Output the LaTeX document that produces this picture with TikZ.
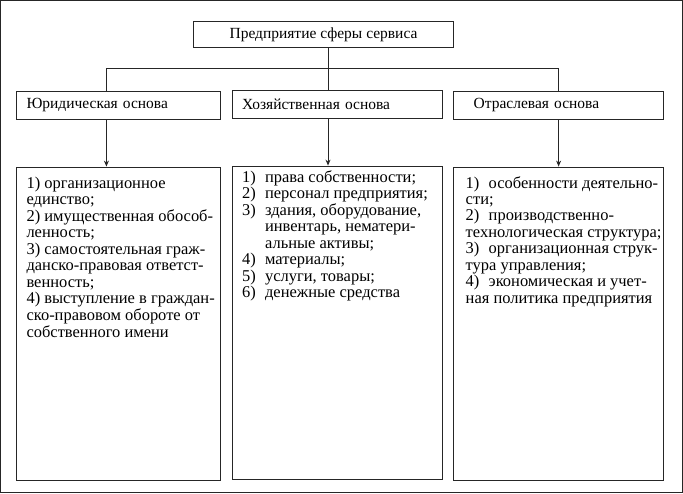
\documentclass[tikz,border=0pt]{standalone}
\usepackage{fontspec}
\setmainfont{Liberation Serif}
\usetikzlibrary{arrows.meta, positioning}

\newcommand{\itemno}[1]{\makebox[23pt][l]{#1}}
\newcommand{\listbox}[2]{\makebox[#1][l]{\begin{tabular}[t]{@{}l@{}}#2\end{tabular}}}

\begin{document}
\begin{tikzpicture}[
        x=1pt, y=1pt,
        node distance=41pt and 11pt,
        every node/.style={font=\fontsize{15.5}{16.5}\selectfont, text=black},
        topbox/.style={rectangle, draw, minimum width=261pt, minimum height=26pt, inner sep=0pt},
        head/.style={rectangle, draw, minimum height=28pt, align=left, inner xsep=10pt, inner ysep=0pt, yshift=-1pt},
        list/.style={rectangle, draw, inner xsep=10pt, inner ysep=10pt, text height=11pt, text depth=283pt, font=\fontsize{16.5}{16.5}\selectfont},
        arrow/.style={-{Stealth[length=6pt, width=5pt]}},
        every path/.style={draw=black!85, line width=0.9pt}
    ]
        \useasboundingbox (0,0) rectangle (683,-493);

        % Top: the enterprise
        \node[topbox] (top) at (323.5,-34) {Предприятие сферы сервиса};

        % Row 2: three bases
        \node[head, text width=191pt, below=41pt of top, xshift=14pt] (hoz) {Хозяйственная основа};
        \node[head, text width=184pt, left=of hoz] (jur) {Юридическая основа};
        \node[head, text width=170pt, inner xsep=20pt, right=10pt of hoz] (otr) {Отраслевая основа};

        % Row 3: lists
        \node[list, below=47pt of jur] (jurlist) {\listbox{184pt}{1) организационное\\
            единство;\\
            2) имущественная обособ-\\
            ленность;\\
            3) самостоятельная граж-\\
            данско-правовая ответст-\\
            венность;\\
            4) выступление в граждан-\\
            ско-правовом обороте от\\
            собственного имени}};
        \node[list, inner ysep=5pt, text depth=293pt, below=47pt of hoz] (hozlist) {\listbox{191pt}{\itemno{1)}права собственности;\\
            \itemno{2)}персонал предприятия;\\
            \itemno{3)}здания, оборудование,\\
            \hspace*{23pt}инвентарь, нематери-\\
            \hspace*{23pt}альные активы;\\
            \itemno{4)}материалы;\\
            \itemno{5)}услуги, товары;\\
            \itemno{6)}денежные средства}};
        \node[list, inner xsep=12pt, below=47pt of otr] (otrlist) {\listbox{186pt}{\itemno{1)}особенности деятельно-\\
            сти;\\
            \itemno{2)}производственно-\\
            технологическая структура;\\
            \itemno{3)}организационная струк-\\
            тура управления;\\
            \itemno{4)}экономическая и учет-\\
            ная политика предприятия}};

        % Tree lines
        \coordinate (bus) at (328,-68);
        \draw (bus |- top.south) -- (bus |- hoz.north);
        \draw ([xshift=-12pt]jur.north) |- (bus) -| (otr.north);

        % Arrows down to the lists
        \draw[arrow] ([xshift=-12pt]jur.south) -- ([xshift=-12pt]jurlist.north);
        \draw[arrow] (bus |- hoz.south) -- (bus |- hozlist.north);
        \draw[arrow] (otr.south) -- (otrlist.north);

    \end{tikzpicture}
\end{document}
